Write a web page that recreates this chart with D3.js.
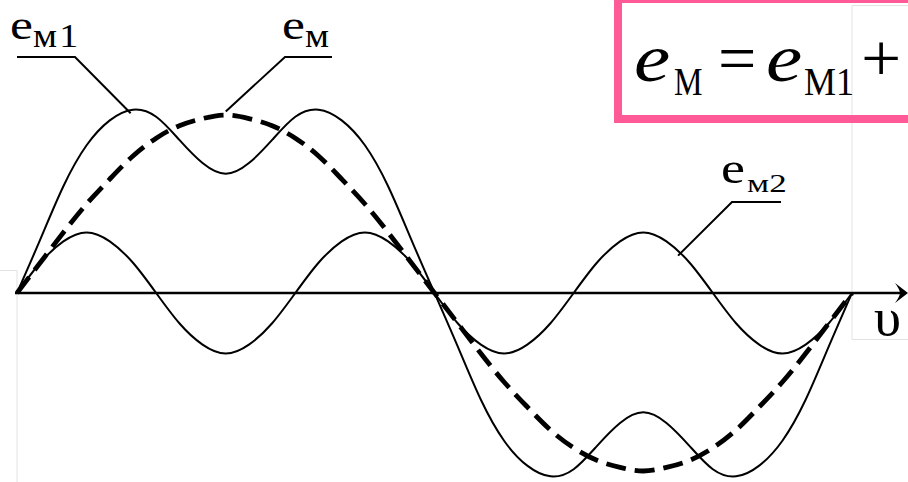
<!DOCTYPE html>
<html>
<head>
<meta charset="utf-8">
<script src="https://cdn.jsdelivr.net/npm/d3@7"></script>
<style>
  body { margin: 0; background: #fff; }
  svg { display: block; }
</style>
</head>
<body>
<div id="chart"></div>
<script>
// Rotor angle, degrees (one period)
const angles = [0, 10, 20, 30, 40, 50, 60, 70, 80, 90, 100, 110, 120, 130, 140, 150, 160, 170, 180,
  190, 200, 210, 220, 230, 240, 250, 260, 270, 280, 290, 300, 310, 320, 330, 340, 350, 360];

// e_m (dashed), relative units
const eM = [0, 17, 34, 50, 64, 77, 87, 94, 98, 100, 98, 94, 87, 77, 64, 50, 34, 17, 0,
  -17, -34, -50, -64, -77, -87, -94, -98, -100, -98, -94, -87, -77, -64, -50, -34, -17, 0];

// e_m1 (double-humped)
const eM1 = [0, 30, 60, 83, 97, 103, 99, 86, 73, 67, 73, 86, 99, 103, 97, 83, 60, 30, 0,
  -30, -60, -83, -97, -103, -99, -86, -73, -67, -73, -86, -99, -103, -97, -83, -60, -30, 0];

// e_m2 (third harmonic)
const eM2 = [0, 17, 29, 34, 29, 17, 0, -17, -29, -34, -29, -17, 0, 17, 29, 34, 29, 17, 0,
  -17, -29, -34, -29, -17, 0, 17, 29, 34, 29, 17, 0, -17, -29, -34, -29, -17, 0];

// label leader anchors on the curves: [angle, value]
const anchorM1 = [49, 101];
const anchorM = [90, 102];
const anchorM2 = [285, 21];

const width = 908, height = 482;
const serif = "'Liberation Serif', 'Times New Roman', Tinos, 'DejaVu Serif', serif";

const svg = d3.select("#chart").append("svg")
  .attr("width", width)
  .attr("height", height);

const x = d3.scaleLinear().domain([0, 360]).range([17, 852]);
const y = d3.scaleLinear().domain([-100, 100]).range([471, 115]);

// faint scan-border lines from the source picture
const faint = svg.append("g").attr("stroke", "#e2e2e2").attr("stroke-width", 1).attr("fill", "none");
faint.append("path").attr("d", `M0,270.5H${x(0)}V${height}`);
faint.append("path").attr("d", `M${width},5.5H${x(360)}V339.5H${width}`);

// axis with arrow
const y0 = y(0);
svg.append("line")
  .attr("x1", x(0) - 2).attr("x2", width - 6)
  .attr("y1", y0).attr("y2", y0)
  .attr("stroke", "#000").attr("stroke-width", 2.6);
svg.append("path")
  .attr("d", `M${width},${y0} L${width - 13},${y0 - 10} Q${width - 8},${y0 - 3} ${width - 8},${y0} Q${width - 8},${y0 + 3} ${width - 13},${y0 + 10} Z`)
  .attr("fill", "#000");

const line = d3.line()
  .x((d, i) => x(angles[i]))
  .y(d => y(d))
  .curve(d3.curveNatural);

svg.append("path").datum(eM1)
  .attr("d", line).attr("fill", "none")
  .attr("stroke", "#000").attr("stroke-width", 2);

svg.append("path").datum(eM2)
  .attr("d", line).attr("fill", "none")
  .attr("stroke", "#000").attr("stroke-width", 2);

svg.append("path").datum(eM)
  .attr("d", line).attr("fill", "none")
  .attr("stroke", "#000").attr("stroke-width", 4.8)
  .attr("stroke-dasharray", "20,9");

// leader lines
function leader(anchor, ex, elbowX, elbowY) {
  svg.append("path")
    .attr("d", `M${ex},${elbowY} H${elbowX} L${x(anchor[0])},${y(anchor[1])}`)
    .attr("fill", "none").attr("stroke", "#000").attr("stroke-width", 2);
}
leader(anchorM1, 17, 75, 57);
leader(anchorM, 332, 285, 57);
leader(anchorM2, 781, 732, 202);

// text pieces, optionally stretched horizontally like the source
function piece(str, px, py, size, sx, italic, spacing) {
  svg.append("text")
    .attr("transform", `translate(${px},${py}) scale(${sx},1)`)
    .attr("font-family", serif)
    .attr("font-size", size)
    .attr("font-style", italic ? "italic" : "normal")
    .attr("letter-spacing", spacing || 0)
    .attr("fill", "#000")
    .text(str);
}

piece("e", 10, 38.5, 43, 1.2);
piece("м1", 33, 47, 33, 1.15, false, 2);

piece("e", 282, 38.5, 43, 1.2);
piece("м", 305, 47, 33, 1.15);

piece("e", 721, 183, 45, 1.2);
piece("м2", 747, 192, 25, 1.4);

piece("υ", 874, 335, 52, 1.05);

// formula box (runs off the right edge)
svg.append("rect")
  .attr("x", 618).attr("y", -1)
  .attr("width", 400).attr("height", 120)
  .attr("fill", "none")
  .attr("stroke", "#ff5a98").attr("stroke-width", 8);

piece("e", 634, 81, 68, 1.2, true);
piece("М", 674, 95, 40, 0.8);
piece("=", 718, 81, 68, 1);
piece("e", 766, 81, 68, 1.2, true);
piece("М1", 804, 95, 40, 0.9);
piece("+", 861, 81, 68, 1.05);
</script>
</body>
</html>
